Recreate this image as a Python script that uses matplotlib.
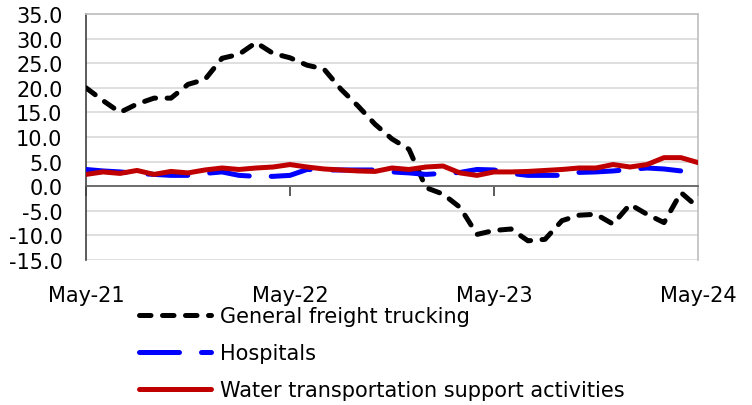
import matplotlib
matplotlib.use("Agg")
import matplotlib.pyplot as plt
import numpy as np

months = ["May-21", "Jun-21", "Jul-21", "Aug-21", "Sep-21", "Oct-21", "Nov-21", "Dec-21",
          "Jan-22", "Feb-22", "Mar-22", "Apr-22", "May-22", "Jun-22", "Jul-22", "Aug-22",
          "Sep-22", "Oct-22", "Nov-22", "Dec-22", "Jan-23", "Feb-23", "Mar-23", "Apr-23",
          "May-23", "Jun-23", "Jul-23", "Aug-23", "Sep-23", "Oct-23", "Nov-23", "Dec-23",
          "Jan-24", "Feb-24", "Mar-24", "Apr-24", "May-24"]

freight = [20.0, 17.4, 15.0, 16.7, 17.9, 17.9, 20.7, 21.7, 26.0, 26.8, 29.2, 27.0,
           26.1, 24.6, 23.8, 19.7, 16.3, 12.6, 9.6, 7.5, -0.3, -1.6, -4.3, -9.8,
           -9.0, -8.7, -11.1, -10.8, -7.0, -5.9, -5.7, -7.7, -3.7, -5.7, -7.4, -1.3, -4.3]

hospitals = [3.4, 3.1, 2.9, 2.6, 2.4, 2.2, 2.2, 2.6, 2.9, 2.2, 2.0, 2.0,
             2.2, 3.4, 3.3, 3.3, 3.3, 3.3, 2.9, 2.7, 2.4, 2.6, 2.8, 3.4,
             3.3, 2.6, 2.2, 2.2, 2.2, 2.8, 2.9, 3.1, 3.4, 3.7, 3.5, 3.1, np.nan]

water = [2.4, 2.9, 2.6, 3.2, 2.4, 3.0, 2.7, 3.3, 3.7, 3.4, 3.7, 3.9,
         4.4, 3.9, 3.5, 3.3, 3.1, 3.0, 3.7, 3.4, 3.9, 4.1, 2.7, 2.2,
         2.9, 2.9, 3.0, 3.2, 3.4, 3.7, 3.7, 4.4, 3.9, 4.4, 5.8, 5.8, 4.8]

series_names = ["General freight trucking", "Hospitals", "Water transportation support activities"]
tick_labels = ["May-21", "May-22", "May-23", "May-24"]
y_ticks = [-15, -10, -5, 0, 5, 10, 15, 20, 25, 30, 35]

plt.rcParams["font.family"] = ["DejaVu Sans"]
FS = 15

fig = plt.figure(figsize=(7.52, 4.06), dpi=100)
ax = fig.add_axes([86 / 752, 1 - 261 / 406, (698 - 86) / 752, (261 - 15) / 406])

x = np.arange(len(months))
lw = 3.6
l1, = ax.plot(x, freight, color="black", lw=lw, linestyle=(0, (2.3, 2.3)),
              dash_capstyle="round", solid_capstyle="round", label=series_names[0], zorder=3)
l2, = ax.plot(x, hospitals, color="#0000FF", lw=lw, linestyle=(0, (8.0, 4.4)),
              dash_capstyle="round", solid_capstyle="round", label=series_names[1], zorder=3)
l3, = ax.plot(x, water, color="#C00000", lw=lw, solid_capstyle="round",
              label=series_names[2], zorder=4)

ax.set_xlim(0, len(months) - 1)
ax.set_ylim(-15, 35)
ax.set_yticks(y_ticks)
ax.set_yticklabels([f"{v:.1f}" for v in y_ticks], fontsize=FS)
ax.tick_params(axis="y", length=0, pad=17)
ax.grid(axis="y", color="#D9D9D9", lw=1.2, zorder=0)

for s in ["top", "right"]:
    ax.spines[s].set_color("#BFBFBF")
    ax.spines[s].set_linewidth(1.2)
ax.spines["left"].set_color("#404040")
ax.spines["left"].set_linewidth(1.2)
ax.spines["bottom"].set_position(("data", 0))
ax.spines["bottom"].set_color("#595959")
ax.spines["bottom"].set_linewidth(1.2)

tick_pos = [months.index(t) for t in tick_labels]
ax.set_xticks(tick_pos)
ax.set_xticklabels([])
ax.tick_params(axis="x", direction="out", length=7, width=1.2, color="#404040")
for p, t in zip(tick_pos, tick_labels):
    ax.text(p, -0.142, t, transform=ax.get_xaxis_transform(), ha="center", va="center",
            fontsize=FS)

leg = fig.legend(handles=[l1, l2, l3], loc="upper left",
                 bbox_to_anchor=(131 / 752, 1 - 299 / 406), frameon=False,
                 fontsize=FS, handlelength=3.45, handletextpad=0.4, labelspacing=0.81,
                 borderaxespad=0)

fig.savefig("out.png", dpi=100)
